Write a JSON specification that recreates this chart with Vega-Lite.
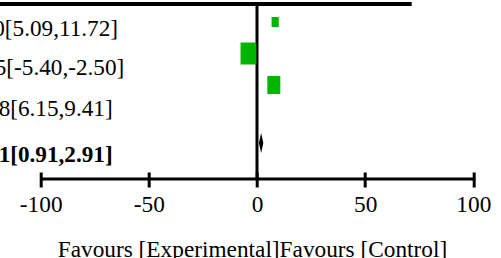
{
  "$schema": "https://vega.github.io/schema/vega-lite/v6.json",
  "width": 432.6,
  "height": 258,
  "autosize": {"type": "none"},
  "padding": {"left": 40.7, "top": 0, "right": 27.7, "bottom": 0},
  "background": "white",
  "config": {"view": {"stroke": null}, "font": "'Liberation Serif', 'Times New Roman', serif"},
  "datasets": {
    "studies": [
      {"study": 1, "md": 8.40, "lo": 5.09, "hi": 11.72, "weight": 11.0, "row": 0, "textRow": 0.43, "label": "8.40[5.09,11.72]"},
      {"study": 2, "md": -3.95, "lo": -5.40, "hi": -2.50, "weight": 53.3, "row": 1, "textRow": 1.683, "label": "-3.95[-5.40,-2.50]"},
      {"study": 3, "md": 7.78, "lo": 6.15, "hi": 9.41, "weight": 35.7, "row": 2, "textRow": 2.97, "label": "7.78[6.15,9.41]"}
    ],
    "pooled": [
      {"md": 1.91, "lo": 0.91, "hi": 2.91, "row": 3.84, "textRow": 4.444, "label": "1.91[0.91,2.91]"}
    ],
    "ticks": [{"v": -100}, {"v": -50}, {"v": 0}, {"v": 50}, {"v": 100}],
    "one": [{"k": 1}],
    "footer": [{"text": "Favours [Experimental]Favours [Control]"}]
  },
  "layer": [
    {
      "data": {"name": "ticks"},
      "mark": {"type": "rule", "opacity": 0},
      "encoding": {
        "x": {
          "field": "v", "type": "quantitative",
          "scale": {"domain": [-100, 100], "nice": false, "zero": false},
          "axis": {
            "orient": "bottom", "offset": -86, "title": null,
            "values": [-100, -50, 0, 50, 100],
            "labelExpr": "'' + datum.value",
            "domain": false, "grid": false,
            "ticks": true, "tickSize": 15, "tickWidth": 3, "tickColor": "black", "tickCap": "butt",
            "labelFont": "'Liberation Serif', 'Times New Roman', serif", "labelFontSize": 23.3, "labelColor": "black",
            "labelPadding": 6.5, "labelFlush": false, "labelOverlap": false
          }
        },
        "y": {"datum": 4.984, "type": "quantitative", "scale": {"domain": [-0.698, 7.492], "reverse": true, "nice": false, "zero": false}, "axis": null}
      }
    },
    {
      "data": {"name": "one"},
      "mark": {"type": "rule", "color": "black", "strokeWidth": 3},
      "encoding": {
        "x": {"datum": -100, "type": "quantitative"},
        "x2": {"datum": 100},
        "y": {"datum": 4.984, "type": "quantitative"}
      }
    },
    {
      "data": {"name": "one"},
      "mark": {"type": "rule", "color": "black", "strokeWidth": 3},
      "encoding": {
        "x": {"datum": 0, "type": "quantitative"},
        "y": {"datum": -0.571, "type": "quantitative"},
        "y2": {"datum": 4.984}
      }
    },
    {
      "data": {"name": "one"},
      "mark": {"type": "rule", "color": "black", "strokeWidth": 4},
      "encoding": {
        "x": {"datum": -119, "type": "quantitative"},
        "x2": {"datum": 71.5},
        "y": {"datum": -0.571, "type": "quantitative"}
      }
    },
    {
      "data": {"name": "studies"},
      "mark": {"type": "point", "shape": "M-0.72,-1H0.72V1H-0.72Z", "filled": true, "color": "#00b400", "opacity": 1, "strokeWidth": 0},
      "encoding": {
        "x": {"field": "md", "type": "quantitative"},
        "y": {"field": "row", "type": "quantitative"},
        "size": {"field": "weight", "type": "quantitative", "scale": {"domain": [0, 100], "range": [0, 908], "zero": true}, "legend": null}
      }
    },
    {
      "data": {"name": "pooled"},
      "mark": {"type": "point", "shape": "M-0.22,0L0,-1L0.22,0L0,1Z", "filled": true, "color": "black", "opacity": 1, "strokeWidth": 0, "size": 400},
      "encoding": {
        "x": {"field": "md", "type": "quantitative"},
        "y": {"field": "row", "type": "quantitative"}
      }
    },
    {
      "data": {"name": "studies"},
      "mark": {"type": "text", "align": "center", "baseline": "alphabetic", "font": "'Liberation Serif', 'Times New Roman', serif", "fontSize": 23.2, "color": "black"},
      "encoding": {
        "x": {"datum": -99.8, "type": "quantitative"},
        "y": {"field": "textRow", "type": "quantitative"},
        "text": {"field": "label"}
      }
    },
    {
      "data": {"name": "pooled"},
      "mark": {"type": "text", "align": "center", "baseline": "alphabetic", "font": "'Liberation Serif', 'Times New Roman', serif", "fontSize": 23.2, "fontWeight": "bold", "color": "black"},
      "encoding": {
        "x": {"datum": -99.8, "type": "quantitative"},
        "y": {"field": "textRow", "type": "quantitative"},
        "text": {"field": "label"}
      }
    },
    {
      "data": {"name": "footer"},
      "mark": {"type": "text", "align": "center", "baseline": "alphabetic", "font": "'Liberation Serif', 'Times New Roman', serif", "fontSize": 23.3, "color": "black"},
      "encoding": {
        "x": {"datum": -2.1, "type": "quantitative"},
        "y": {"datum": 7.467, "type": "quantitative"},
        "text": {"field": "text"}
      }
    }
  ]
}
